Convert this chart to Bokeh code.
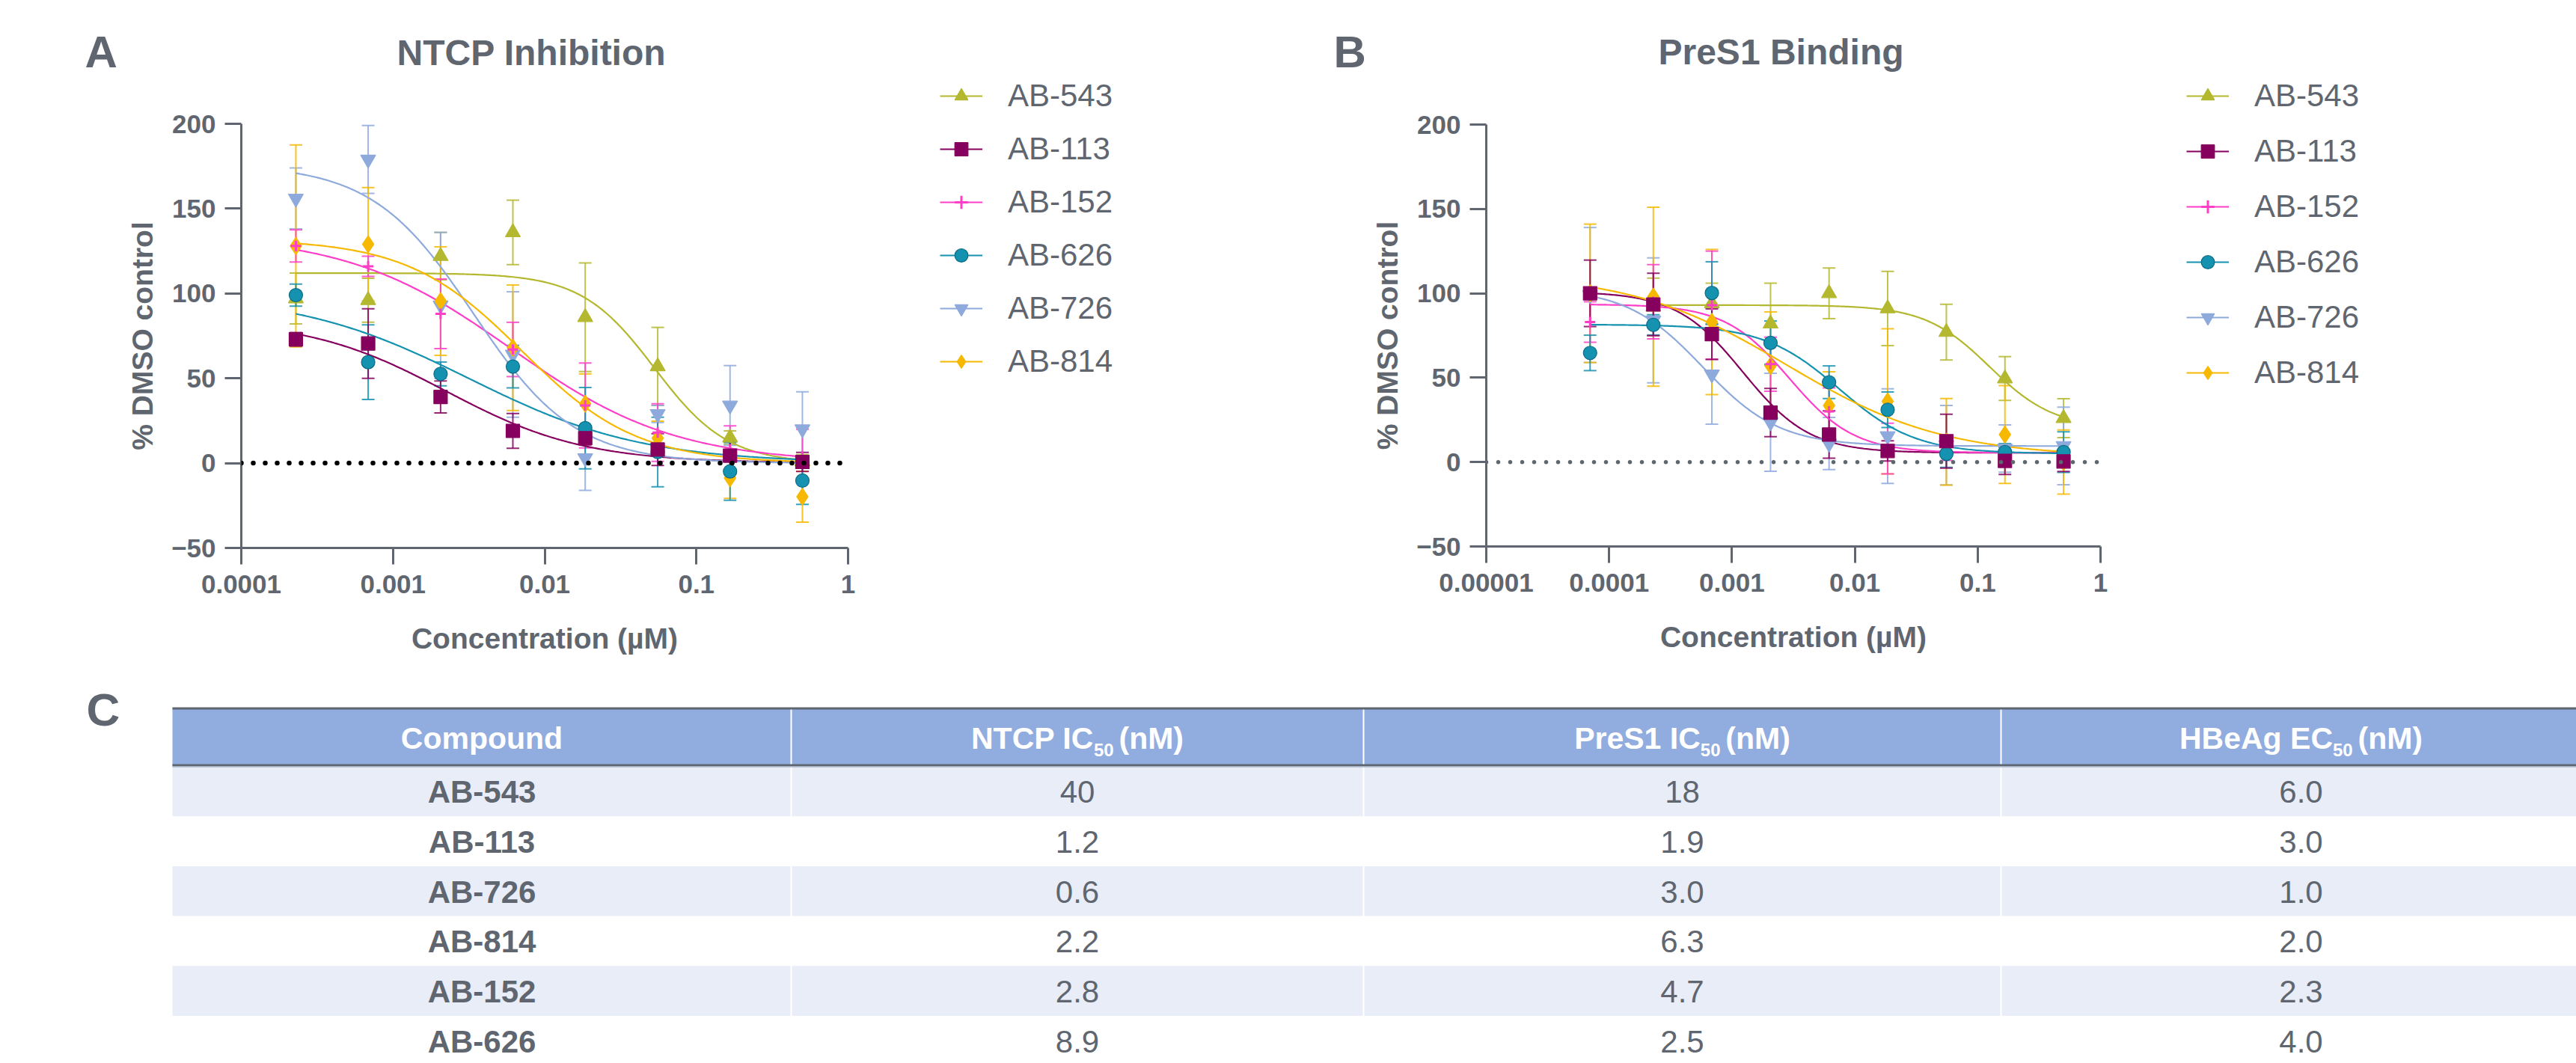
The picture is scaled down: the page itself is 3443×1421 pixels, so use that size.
import numpy as np
from bokeh.plotting import figure
from bokeh.models import (ColumnDataSource, Whisker, TeeHead, Span, Legend, LegendItem,
                          FixedTicker, Range1d)
from bokeh.layouts import column, row
from bokeh.embed import file_html
from bokeh.resources import INLINE
from bokeh.core.properties import value

# ---------------- data ----------------
compounds = ["AB-543", "AB-113", "AB-152", "AB-626", "AB-726", "AB-814"]

# Panel A: NTCP inhibition (concentration in uM)
conc_a = [0.000229, 0.000686, 0.00206, 0.00617, 0.0185, 0.0556, 0.1667, 0.5]
a543_y = [97, 96, 122, 136, 86, 57, 15, 1]
a543_e = [15, 13, 14, 19, 32, 23, 4, 4]
a113_y = [73, 70.5, 39, 19, 14.7, 8, 4.4, 0.7]
a113_e = [4, 20.5, 9.4, 10.3, 4, 9.4, 8.4, 5.6]
a152_y = [128, 116, 88, 67, 34, 18, 8, 4]
a152_e = [9.5, 6, 20.5, 16, 25, 17, 14, 16]
a626_y = [99, 59.5, 52.6, 56.9, 20.6, 6.6, -4.9, -10.3]
a626_e = [6.5, 22, 7, 12.5, 24, 20.5, 17, 14]
a726_y = [156, 179, 93, 64, 3, 29, 34, 20]
a726_e = [18, 20, 43, 37, 19, 5, 23.5, 22]
a814_y = [128, 129, 95.5, 68, 35, 14.7, -8.8, -19.8]
a814_e = [59.5, 33.4, 32, 37, 17.6, 10, 12, 15]
# fitted 4PL parameters: top, bottom, IC50 (uM), hill
fit_a543 = [112, 0, 0.053, 1.8]
fit_a113 = [85, 0, 0.00223, 0.95]
fit_a152 = [135, 0, 0.0060, 0.8]
fit_a626 = [100, 0, 0.00315, 0.76]
fit_a726 = [176, 0, 0.0034, 1.3]
fit_a814 = [132, 0, 0.0071, 1.15]

# Panel B: PreS1 binding
conc_b = [0.00007, 0.000229, 0.000686, 0.00206, 0.00617, 0.0185, 0.0556, 0.1667, 0.5]
b543_y = [np.nan, 92, 94, 82, 100, 91, 77, 49.5, 26]
b543_e = [np.nan, 17, 12, 24, 15, 22, 16.5, 13, 11.5]
b113_y = [100, 93.4, 75.8, 29.3, 16.3, 6.6, 12.4, 0.7, 0.4]
b113_e = [19.7, 18.5, 15, 14.3, 14, 6, 16, 8, 6]
b152_y = [83, 95, 93, 58, 30, 8, 6, 5, 6]
b152_e = [12, 22, 32, 16, 14, 15, 5, 5, 5]
b626_y = [64.7, 81.3, 100.2, 70.6, 47.3, 31, 4.9, 5.9, 5.9]
b626_e = [10.5, 6, 18.5, 13, 9.7, 10.5, 8, 5, 12]
b726_y = [99, 84, 52, 23.6, 11, 15.4, 10, 8, 9.6]
b726_e = [40, 37, 29.5, 29, 15.5, 28, 23.5, 14, 23]
b814_y = [100, 98, 83, 57, 33.5, 36, 12, 16.3, 0]
b814_e = [41, 53, 43, 32, 20, 43, 25.6, 29, 19]
fit_b543 = [93, 20, 0.125, 1.65]
fit_b113 = [101, 5.5, 0.00123, 1.6]
fit_b152 = [93.5, 5.5, 0.00294, 1.65]
fit_b626 = [81.5, 5, 0.0075, 1.4]
fit_b726 = [103, 9.5, 0.00058, 1.4]
fit_b814 = [112, 3, 0.0028, 0.68]

# axes ticks
xticks_a = [0.0001, 0.001, 0.01, 0.1, 1]
xlabels_a = ["0.0001", "0.001", "0.01", "0.1", "1"]
xticks_b = [0.00001, 0.0001, 0.001, 0.01, 0.1, 1]
xlabels_b = ["0.00001", "0.0001", "0.001", "0.01", "0.1", "1"]
yticks = [-50, 0, 50, 100, 150, 200]

# table
table_compounds = ["AB-543", "AB-113", "AB-726", "AB-814", "AB-152", "AB-626"]
table_ntcp = ["40", "1.2", "0.6", "2.2", "2.8", "8.9"]
table_pres1 = ["18", "1.9", "3.0", "6.3", "4.7", "2.5"]
table_hbeag = ["6.0", "3.0", "1.0", "2.0", "2.3", "4.0"]

# ---------------- style ----------------
GRAY = "#5f6670"
FONT = "Liberation Sans"
COL = {"AB-543": "#b4b82f", "AB-113": "#86005e", "AB-152": "#ff3ec8",
       "AB-626": "#1592b0", "AB-726": "#8eaadd", "AB-814": "#f6b800"}
EDGE = dict(COL, **{"AB-626": "#0b6c85"})
MARK = {"AB-543": "triangle", "AB-113": "square", "AB-152": "cross",
        "AB-626": "circle", "AB-726": "inverted_triangle", "AB-814": "diamond"}
MSIZE = {"AB-543": 20, "AB-113": 18, "AB-152": 14, "AB-626": 18,
         "AB-726": 20, "AB-814": 23}
DRAW_ORDER = ["AB-543", "AB-726", "AB-814", "AB-152", "AB-626", "AB-113"]
PAGE_W, PAGE_H = 3443, 1421
HDR_H, TOP_H = 103, 900
MID_H = TOP_H - HDR_H
W_A, W_LA, W_B = 1150, 610, 1064
W_LB = PAGE_W - W_A - W_LA - W_B


def blank(width, height, xr, yr, **kw):
    p = figure(width=width, height=height, x_range=xr, y_range=yr, x_axis_type=None,
               y_axis_type=None, output_backend="svg", toolbar_location=None, **kw)
    p.outline_line_color = None
    p.grid.visible = False
    return p


def style_axes(p, xt, xl):
    p.xaxis.ticker = FixedTicker(ticks=xt)
    p.xaxis.major_label_overrides = dict(zip(xt, xl))
    p.yaxis.ticker = FixedTicker(ticks=yticks)
    p.xaxis.axis_label = "Concentration (µM)"
    p.yaxis.axis_label = "% DMSO control"
    for ax in (p.xaxis[0], p.yaxis[0]):
        ax.axis_line_color = GRAY
        ax.axis_line_width = 3
        ax.major_tick_line_color = GRAY
        ax.major_tick_line_width = 3
        ax.major_tick_out = 22
        ax.major_tick_in = 0
        ax.minor_tick_line_color = None
        ax.major_label_text_font = FONT
        ax.major_label_text_font_style = "bold"
        ax.major_label_text_font_size = "35px"
        ax.major_label_text_color = GRAY
        ax.axis_label_text_font = FONT
        ax.axis_label_text_font_style = "bold"
        ax.axis_label_text_font_size = "39px"
        ax.axis_label_text_color = GRAY
    p.xaxis.major_label_standoff = 14
    p.yaxis.major_label_standoff = 12
    p.xaxis.axis_label_standoff = 36
    p.yaxis.axis_label_standoff = 14
    p.xgrid.visible = False
    p.ygrid.visible = False
    p.outline_line_color = None


def draw_panel(p, conc, series, zero_color, dot_w):
    srcs = {}
    for name, (ys, es, fit) in series.items():
        x = np.array(conc, float)
        y = np.array(ys, float)
        e = np.array(es, float)
        ok = ~np.isnan(y)
        srcs[name] = ColumnDataSource(dict(x=x[ok], y=y[ok], lo=(y - e)[ok], hi=(y + e)[ok]))
        top, bot, ic, h = fit
        xc = np.logspace(np.log10(x[ok].min()), np.log10(x[ok].max()), 300)
        yc = bot + (top - bot) / (1.0 + (xc / ic) ** h)
        p.line(xc, yc, line_color=COL[name], line_width=2.2)
    p.add_layout(Span(location=0, dimension="width", line_color=zero_color,
                      line_width=dot_w, line_dash="0 16", line_cap="round"))
    for name in DRAW_ORDER:
        c = COL[name]
        src = srcs[name]
        p.add_layout(Whisker(source=src, base="x", upper="hi", lower="lo",
                             line_color=c, line_width=2, line_alpha=0.85,
                             upper_head=TeeHead(size=17, line_color=c, line_width=2, line_alpha=0.85),
                             lower_head=TeeHead(size=17, line_color=c, line_width=2, line_alpha=0.85)))
        if MARK[name] == "cross":
            p.scatter("x", "y", source=src, marker="cross", size=MSIZE[name],
                      line_color=c, line_width=3)
        else:
            p.scatter("x", "y", source=src, marker=MARK[name], size=MSIZE[name],
                      fill_color=c, line_color=EDGE[name], line_width=1.2)


def legend_fig(width, left, top, spacing):
    # a figure that only holds the legend; its proxy glyphs sit outside the visible range
    p = blank(width, MID_H, Range1d(0, 1), Range1d(0, 1), min_border_left=left,
              min_border_top=top, min_border_right=0, min_border_bottom=0)
    items = []
    for n in compounds:
        lr = p.line(x=[-5, -4], y=[-5, -4], line_color=COL[n], line_width=2.2)
        if MARK[n] == "cross":
            sr = p.scatter(x=[-5], y=[-5], marker="cross", line_color=COL[n], line_width=3)
        else:
            sr = p.scatter(x=[-5], y=[-5], marker=MARK[n], fill_color=COL[n],
                           line_color=EDGE[n], line_width=1.2)
        items.append(LegendItem(label=n, renderers=[lr, sr]))
    leg = Legend(items=items, location="top_left", orientation="vertical",
                 glyph_width=57, glyph_height=44, label_height=44, label_standoff=34,
                 spacing=spacing, padding=0, margin=0, border_line_color=None,
                 background_fill_alpha=0, label_text_font=FONT, label_text_font_size="42px",
                 label_text_color=GRAY, label_text_baseline="middle")
    p.add_layout(leg, "center")
    return p


# ---------------- header with panel letters and titles (page pixels) ----------------
hdr = blank(PAGE_W, HDR_H, Range1d(0, PAGE_W), Range1d(HDR_H, 0), min_border=0)
hdr.text(x=[113, 1782], y=[69, 69], text=["A", "B"], text_align="left",
         text_baseline="middle", text_font=value(FONT), text_font_style="bold",
         text_font_size="60px", text_color=GRAY)
hdr.text(x=[710, 2380], y=[70, 69], text=["NTCP Inhibition", "PreS1 Binding"],
         text_align="center", text_baseline="middle", text_font=value(FONT),
         text_font_style="bold", text_font_size="48px", text_color=GRAY)

# ---------------- panel A ----------------
pA = figure(width=W_A, height=MID_H, x_axis_type="log", x_range=Range1d(1e-4, 1),
            y_range=Range1d(-50, 200), min_border_left=322, min_border_right=17,
            min_border_top=165 - HDR_H, min_border_bottom=MID_H - (165 - HDR_H) - 567,
            output_backend="svg", toolbar_location=None)
style_axes(pA, xticks_a, xlabels_a)
draw_panel(pA, conc_a, {
    "AB-543": (a543_y, a543_e, fit_a543), "AB-113": (a113_y, a113_e, fit_a113),
    "AB-152": (a152_y, a152_e, fit_a152), "AB-626": (a626_y, a626_e, fit_a626),
    "AB-726": (a726_y, a726_e, fit_a726), "AB-814": (a814_y, a814_e, fit_a814)},
    "black", 6.5)
legA = legend_fig(W_LA, 1256 - W_A, 1, 23)

# ---------------- panel B ----------------
xB = W_A + W_LA
pB = figure(width=W_B, height=MID_H, x_axis_type="log", x_range=Range1d(1e-5, 1),
            y_range=Range1d(-50, 200), min_border_left=1986 - xB, min_border_right=17,
            min_border_top=166 - HDR_H, min_border_bottom=MID_H - (166 - HDR_H) - 564,
            output_backend="svg", toolbar_location=None)
style_axes(pB, xticks_b, xlabels_b)
draw_panel(pB, conc_b, {
    "AB-543": (b543_y, b543_e, fit_b543), "AB-113": (b113_y, b113_e, fit_b113),
    "AB-152": (b152_y, b152_e, fit_b152), "AB-626": (b626_y, b626_e, fit_b626),
    "AB-726": (b726_y, b726_e, fit_b726), "AB-814": (b814_y, b814_e, fit_b814)},
    GRAY, 5.5)
legB = legend_fig(W_LB, 2922 - (xB + W_B), 1, 26)

# ---------------- table C (page pixel coordinates) ----------------
T_TOP = TOP_H
pT = blank(PAGE_W, PAGE_H - T_TOP, Range1d(0, PAGE_W), Range1d(PAGE_H, T_TOP), min_border=0)

col_edges = [230, 1057, 1822, 2674, 3476]
head_top, head_bot = 946, 1023
row_top0, row_h = 1024, 66.7
n_rows = len(table_compounds)
HEAD_FILL = "#91acde"
STRIPE = "#e8edf8"

pT.quad(left=[col_edges[0]], right=[col_edges[-1]], top=[head_top], bottom=[head_bot],
        fill_color=HEAD_FILL, line_color=None)
stripe_tops = [row_top0 + i * row_h for i in range(n_rows) if i % 2 == 0]
pT.quad(left=[col_edges[0]] * len(stripe_tops), right=[col_edges[-1]] * len(stripe_tops),
        top=stripe_tops, bottom=[t + row_h for t in stripe_tops], fill_color=STRIPE,
        line_color=None)
inner = col_edges[1:-1]
pT.segment(x0=inner, y0=[head_top] * 3, x1=inner, y1=[row_top0 + n_rows * row_h] * 3,
           line_color="white", line_width=2)
pT.segment(x0=[col_edges[0]] * 2, x1=[col_edges[-1]] * 2, y0=[946.5, 1022.5],
           y1=[946.5, 1022.5], line_color=GRAY, line_width=3)
pT.segment(x0=[col_edges[0]], x1=[col_edges[-1]], y0=[1024.5], y1=[1024.5],
           line_color="#a7b4c8", line_width=1.5)

centers = [(col_edges[i] + col_edges[i + 1]) / 2 for i in range(4)]
TSIZE = 42
row_mid = [row_top0 + i * row_h + row_h / 2 + 1 for i in range(n_rows)]
pT.text(x=[centers[0]] * n_rows, y=row_mid, text=table_compounds, text_align="center",
        text_baseline="middle", text_font=value(FONT), text_font_style="bold",
        text_font_size=f"{TSIZE}px", text_color=GRAY)
for ci, vals in zip([1, 2, 3], [table_ntcp, table_pres1, table_hbeag]):
    pT.text(x=[centers[ci]] * n_rows, y=row_mid, text=vals, text_align="center",
            text_baseline="middle", text_font=value(FONT), text_font_size=f"{TSIZE}px",
            text_color=GRAY)

# header texts (with subscript 50)
AW = {' ': 278, '(': 333, ')': 333, '0': 556, '1': 556, '5': 556, 'A': 722, 'B': 722,
      'C': 722, 'E': 667, 'H': 722, 'I': 278, 'M': 833, 'N': 722, 'P': 667, 'S': 667,
      'T': 611, 'e': 556, 'g': 611, 'n': 611, 'r': 389}


def tw(s, size):
    return sum(AW[c] for c in s) / 1000.0 * size


HSIZE, SSIZE = 41, 24
head_mid = 986
pT.text(x=[centers[0]], y=[head_mid], text=["Compound"], text_align="center",
        text_baseline="middle", text_font=value(FONT), text_font_style="bold",
        text_font_size=f"{HSIZE}px", text_color="white")
header_parts = [("NTCP IC", "50", "(nM)"), ("PreS1 IC", "50", "(nM)"), ("HBeAg EC", "50", "(nM)")]
main_x, main_t, sub_x, sub_t = [], [], [], []
for ci, (a, b, c) in zip([1, 2, 3], header_parts):
    wa, wb, wsp, wc = tw(a, HSIZE), tw(b, SSIZE), tw(" ", HSIZE) * 0.6, tw(c, HSIZE)
    x0 = centers[ci] - (wa + wb + wsp + wc) / 2
    main_x += [x0, x0 + wa + wb + wsp]
    main_t += [a, c]
    sub_x.append(x0 + wa)
    sub_t.append(b)
pT.text(x=main_x, y=[head_mid] * len(main_x), text=main_t, text_align="left",
        text_baseline="middle", text_font=value(FONT), text_font_style="bold",
        text_font_size=f"{HSIZE}px", text_color="white")
pT.text(x=sub_x, y=[head_mid + 16] * len(sub_x), text=sub_t, text_align="left",
        text_baseline="middle", text_font=value(FONT), text_font_style="bold",
        text_font_size=f"{SSIZE}px", text_color="white")
pT.text(x=[115], y=[948], text=["C"], text_align="left", text_baseline="middle",
        text_font=value(FONT), text_font_style="bold", text_font_size="62px", text_color=GRAY)

mid_row = row(column(pA), legA, column(pB), legB)
layout = column(hdr, mid_row, pT)
open("out.html", "w").write(file_html(layout, INLINE))
